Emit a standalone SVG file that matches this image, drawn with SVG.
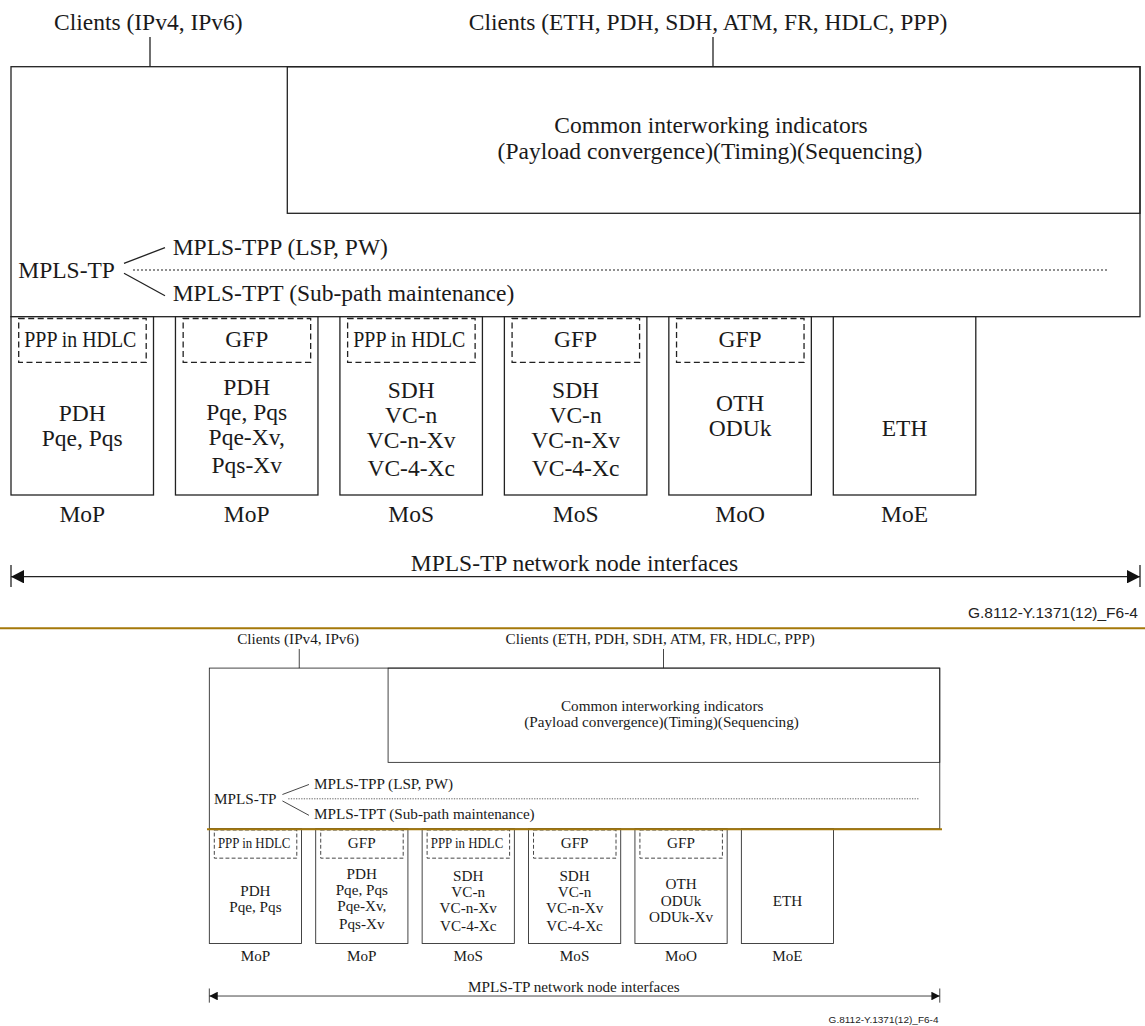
<svg xmlns="http://www.w3.org/2000/svg" width="1145" height="1026" viewBox="0 0 1145 1026">
<style>
.box{fill:#fff;stroke:#222;stroke-width:1.3}
.ob{fill:none;stroke:#222;stroke-width:1.3}
.dash{fill:none;stroke:#222;stroke-width:1.3;stroke-dasharray:6 3.5}
.ln{stroke:#222;stroke-width:1.3;fill:none}
.dot{stroke:#222;stroke-width:1.1;stroke-dasharray:2 2;fill:none}
.t{font-family:"Liberation Serif","Times New Roman",serif;font-size:23.5px;fill:#1a1a1a}
.m{text-anchor:middle}
.cap{font-family:"Liberation Sans",Arial,sans-serif;font-size:15.5px;text-anchor:end;fill:#222}
.sep{stroke:#a5780a;stroke-width:2}
</style>
<defs>
<marker id="ah" viewBox="0 0 13 13.4" refX="13" refY="6.7" markerWidth="13" markerHeight="13.4" markerUnits="userSpaceOnUse" orient="auto-start-reverse">
<path d="M0,0 L13,6.7 L0,13.4 z" fill="#111"/>
</marker>
</defs>

<g id="big">
<g id="main-box">
<rect class="ob" x="11" y="66.7" width="1129" height="250"/>
<text class="t" x="18.3" y="277.7">MPLS-TP</text>
<text class="t" x="172.7" y="255">MPLS-TPP (LSP, PW)</text>
<text class="t" x="172.7" y="301">MPLS-TPT (Sub-path maintenance)</text>
</g>
<g id="common-box">
<rect class="ob" x="287.3" y="66.7" width="852.7" height="146.6"/>
<text class="t m" x="711" y="133">Common interworking indicators</text>
<text class="t m" x="710" y="159">(Payload convergence)(Timing)(Sequencing)</text>
</g>
<g id="clients-ip"><text class="t m" x="148.3" y="30">Clients (IPv4, IPv6)</text></g>
<g id="clients-other"><text class="t m" x="708" y="30">Clients (ETH, PDH, SDH, ATM, FR, HDLC, PPP)</text></g>

<g id="mop1">
<rect class="box" x="11" y="316.7" width="142.5" height="178.3"/>
<rect class="dash" x="18.7" y="318.5" width="127.5" height="43.8"/>
<text class="t" x="24.3" y="347" textLength="112" lengthAdjust="spacingAndGlyphs">PPP in HDLC</text>
<text class="t m" x="82.25" y="421">PDH</text>
<text class="t m" x="82.25" y="446">Pqe, Pqs</text>
<text class="t m" x="82.25" y="522">MoP</text>
</g>
<g id="mop2">
<rect class="box" x="175.46" y="316.7" width="142.5" height="178.3"/>
<rect class="dash" x="183.16" y="318.5" width="127.5" height="43.8"/>
<text class="t m" x="246.7" y="347">GFP</text>
<text class="t m" x="246.7" y="395">PDH</text>
<text class="t m" x="246.7" y="420">Pqe, Pqs</text>
<text class="t m" x="246.7" y="445">Pqe-Xv,</text>
<text class="t m" x="246.7" y="472.5">Pqs-Xv</text>
<text class="t m" x="246.7" y="522">MoP</text>
</g>
<g id="mos1">
<rect class="box" x="339.92" y="316.7" width="142.5" height="178.3"/>
<rect class="dash" x="347.62" y="318.5" width="127.5" height="43.8"/>
<text class="t" x="353.3" y="347" textLength="112" lengthAdjust="spacingAndGlyphs">PPP in HDLC</text>
<text class="t m" x="411.2" y="398">SDH</text>
<text class="t m" x="411.2" y="423">VC-n</text>
<text class="t m" x="411.2" y="448">VC-n-Xv</text>
<text class="t m" x="411.2" y="475.5">VC-4-Xc</text>
<text class="t m" x="411.2" y="522">MoS</text>
</g>
<g id="mos2">
<rect class="box" x="504.38" y="316.7" width="142.5" height="178.3"/>
<rect class="dash" x="512.08" y="318.5" width="127.5" height="43.8"/>
<text class="t m" x="575.6" y="347">GFP</text>
<text class="t m" x="575.6" y="398">SDH</text>
<text class="t m" x="575.6" y="423">VC-n</text>
<text class="t m" x="575.6" y="448">VC-n-Xv</text>
<text class="t m" x="575.6" y="475.5">VC-4-Xc</text>
<text class="t m" x="575.6" y="522">MoS</text>
</g>
<g id="moo">
<rect class="box" x="668.84" y="316.7" width="142.5" height="178.3"/>
<rect class="dash" x="676.54" y="318.5" width="127.5" height="43.8"/>
<text class="t m" x="740.1" y="347">GFP</text>
<text class="t m" x="740.1" y="411">OTH</text>
<text class="t m" x="740.1" y="436">ODUk</text>
<text class="t m" x="740.1" y="522">MoO</text>
</g>
<g id="moe">
<rect class="box" x="833.3" y="316.7" width="142.5" height="178.3"/>
<text class="t m" x="904.6" y="436">ETH</text>
<text class="t m" x="904.6" y="522">MoE</text>
</g>
<g id="interfaces-label"><text class="t m" x="574.5" y="570.5">MPLS-TP network node interfaces</text></g>
<g id="caption"><text class="cap" x="1138" y="618">G.8112-Y.1371(12)_F6-4</text></g>

<g id="connectors">
<line class="ln" x1="150" y1="37" x2="150" y2="66.7"/>
<line class="ln" x1="713" y1="37" x2="713" y2="66.7"/>
<line class="ln" x1="124" y1="263.3" x2="165" y2="247.7"/>
<line class="ln" x1="124" y1="273.3" x2="165" y2="295.7"/>
<line class="dot" x1="133" y1="270" x2="1108" y2="270"/>
<line class="ln" x1="11" y1="576.7" x2="1140" y2="576.7" marker-start="url(#ah)" marker-end="url(#ah)"/>
<line class="ln" x1="11" y1="565" x2="11" y2="587"/>
<line class="ln" x1="1140" y1="565" x2="1140" y2="587"/>
</g>
</g>

<line class="sep" x1="0" y1="628.3" x2="1145" y2="628.3"/>

<g id="small" transform="matrix(0.647 0 0 0.643 202.2 625.2)">
<g id="s-main-box">
<rect class="ob" x="11" y="66.7" width="1129" height="250"/>
<text class="t" x="18.3" y="277.7">MPLS-TP</text>
<text class="t" x="172.7" y="255">MPLS-TPP (LSP, PW)</text>
<text class="t" x="172.7" y="301">MPLS-TPT (Sub-path maintenance)</text>
</g>
<g id="s-common-box">
<rect class="ob" x="287.3" y="66.7" width="852.7" height="146.6"/>
<text class="t m" x="711" y="133">Common interworking indicators</text>
<text class="t m" x="710" y="159">(Payload convergence)(Timing)(Sequencing)</text>
</g>
<g id="s-clients-ip"><text class="t m" x="148.3" y="30">Clients (IPv4, IPv6)</text></g>
<g id="s-clients-other"><text class="t m" x="708" y="30">Clients (ETH, PDH, SDH, ATM, FR, HDLC, PPP)</text></g>

<g id="s-mop1">
<rect class="box" x="11" y="316.7" width="142.5" height="178.3"/>
<rect class="dash" x="18.7" y="318.5" width="127.5" height="43.8"/>
<text class="t" x="24.3" y="347" textLength="112" lengthAdjust="spacingAndGlyphs">PPP in HDLC</text>
<text class="t m" x="82.25" y="421">PDH</text>
<text class="t m" x="82.25" y="446">Pqe, Pqs</text>
<text class="t m" x="82.25" y="522">MoP</text>
</g>
<g id="s-mop2">
<rect class="box" x="175.46" y="316.7" width="142.5" height="178.3"/>
<rect class="dash" x="183.16" y="318.5" width="127.5" height="43.8"/>
<text class="t m" x="246.7" y="347">GFP</text>
<text class="t m" x="246.7" y="395">PDH</text>
<text class="t m" x="246.7" y="420">Pqe, Pqs</text>
<text class="t m" x="246.7" y="445">Pqe-Xv,</text>
<text class="t m" x="246.7" y="472.5">Pqs-Xv</text>
<text class="t m" x="246.7" y="522">MoP</text>
</g>
<g id="s-mos1">
<rect class="box" x="339.92" y="316.7" width="142.5" height="178.3"/>
<rect class="dash" x="347.62" y="318.5" width="127.5" height="43.8"/>
<text class="t" x="353.3" y="347" textLength="112" lengthAdjust="spacingAndGlyphs">PPP in HDLC</text>
<text class="t m" x="411.2" y="398">SDH</text>
<text class="t m" x="411.2" y="423">VC-n</text>
<text class="t m" x="411.2" y="448">VC-n-Xv</text>
<text class="t m" x="411.2" y="475.5">VC-4-Xc</text>
<text class="t m" x="411.2" y="522">MoS</text>
</g>
<g id="s-mos2">
<rect class="box" x="504.38" y="316.7" width="142.5" height="178.3"/>
<rect class="dash" x="512.08" y="318.5" width="127.5" height="43.8"/>
<text class="t m" x="575.6" y="347">GFP</text>
<text class="t m" x="575.6" y="398">SDH</text>
<text class="t m" x="575.6" y="423">VC-n</text>
<text class="t m" x="575.6" y="448">VC-n-Xv</text>
<text class="t m" x="575.6" y="475.5">VC-4-Xc</text>
<text class="t m" x="575.6" y="522">MoS</text>
</g>
<g id="s-moo">
<rect class="box" x="668.84" y="316.7" width="142.5" height="178.3"/>
<rect class="dash" x="676.54" y="318.5" width="127.5" height="43.8"/>
<text class="t m" x="740.1" y="347">GFP</text>
<text class="t m" x="740.1" y="411">OTH</text>
<text class="t m" x="740.1" y="436">ODUk</text>
<text class="t m" x="740.1" y="462">ODUk-Xv</text>
<text class="t m" x="740.1" y="522">MoO</text>
</g>
<g id="s-moe">
<rect class="box" x="833.3" y="316.7" width="142.5" height="178.3"/>
<text class="t m" x="904.6" y="436">ETH</text>
<text class="t m" x="904.6" y="522">MoE</text>
</g>
<g id="s-interfaces-label"><text class="t m" x="574.5" y="570.5">MPLS-TP network node interfaces</text></g>
<g id="s-caption"><text class="cap" x="1138" y="618">G.8112-Y.1371(12)_F6-4</text></g>

<g id="s-connectors">
<line class="ln" x1="150" y1="37" x2="150" y2="66.7"/>
<line class="ln" x1="713" y1="37" x2="713" y2="66.7"/>
<line class="ln" x1="124" y1="263.3" x2="165" y2="247.7"/>
<line class="ln" x1="124" y1="273.3" x2="165" y2="295.7"/>
<line class="dot" x1="133" y1="270" x2="1108" y2="270"/>
<line class="ln" x1="11" y1="576.7" x2="1140" y2="576.7" marker-start="url(#ah)" marker-end="url(#ah)"/>
<line class="ln" x1="11" y1="565" x2="11" y2="587"/>
<line class="ln" x1="1140" y1="565" x2="1140" y2="587"/>
</g>
</g>

<line class="sep" x1="207" y1="829.3" x2="942" y2="829.3"/>
</svg>
